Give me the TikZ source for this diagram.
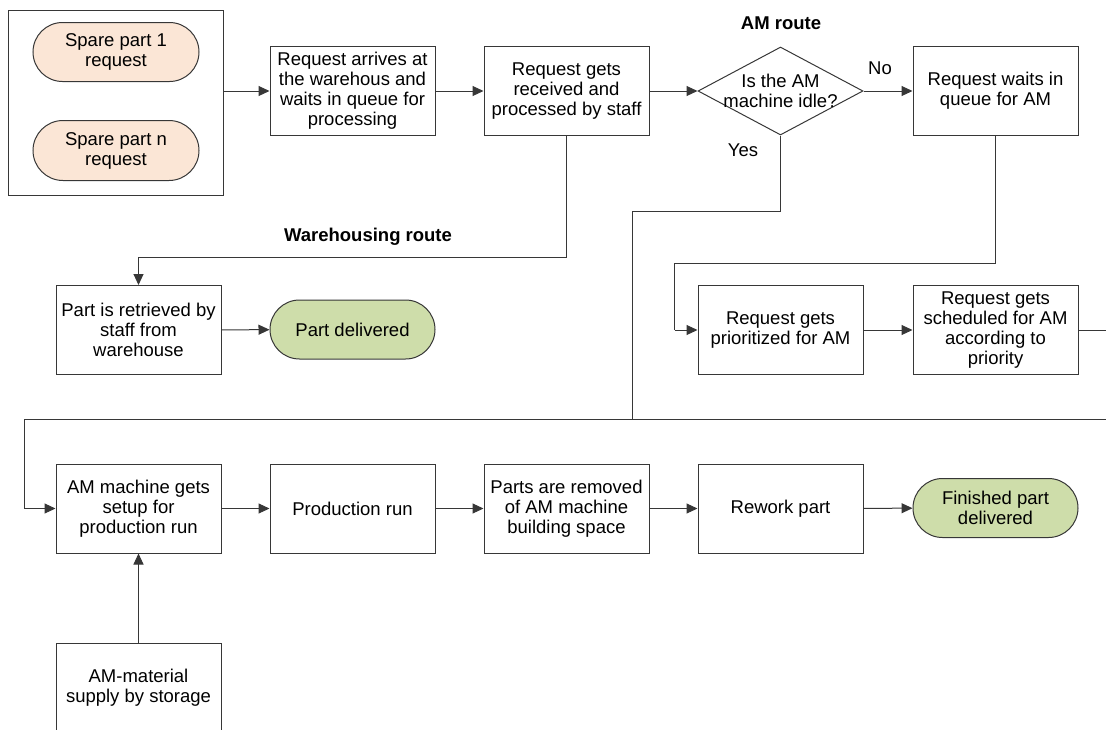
\documentclass[tikz,border=0pt]{standalone}
\usepackage{fontspec}
\setmainfont{Liberation Sans}
\usetikzlibrary{shapes.geometric,shapes.misc,arrows.meta}
\definecolor{linegrey}{RGB}{55,55,55}
\definecolor{peach}{RGB}{251,230,214}
\definecolor{sage}{RGB}{206,221,170}
\begin{document}
\begin{tikzpicture}[x=1pt,y=-1pt,
  every node/.style={font=\fontsize{18.5}{20}\selectfont, align=center, text=black},
  box/.style={draw=linegrey, line width=1pt, rectangle, minimum width=165pt, minimum height=89pt, inner sep=0pt},
  term/.style={draw=linegrey, line width=1pt, rounded rectangle, minimum width=165pt, minimum height=59pt, inner sep=0pt},
  decision/.style={draw=linegrey, line width=1pt, diamond, minimum width=165pt, minimum height=88pt, inner sep=0pt},
  link/.style={draw=linegrey, line width=1pt},
  arr/.style={link, -{Triangle[length=11pt,width=10pt]}},
  plain/.style={inner sep=0pt},
  heading/.style={plain, font=\fontsize{18.5}{20}\selectfont\bfseries}
]
\useasboundingbox (0,0) rectangle (1106,729);
\clip (0,0) rectangle (1106,729);

% request sources
\node[box, minimum width=215pt, minimum height=185pt] (outer) at (115.5,102.5) {};
\node[term, fill=peach, minimum width=166pt] (sp1) at (116,52) {Spare part 1\\request};
\node[term, fill=peach, minimum width=166pt, minimum height=60pt] (spn) at (116,150.5) {Spare part n\\request};

% top row
\node[box] (arrive) at (352.5,91) {Request arrives at\\the warehous and\\waits in queue for\\processing};
\node[box] (receive) at (566.5,91) {Request gets\\received and\\processed by staff};
\node[decision] (idle) at (780.5,91) {};
\node[plain] (idletext) at (idle.center) {Is the AM\\machine idle?};
\node[box] (waits) at (995.5,91) {Request waits in\\queue for AM};

% labels
\node[heading] (amroute) at (781,23) {AM route};
\node[plain] (no) at (880,68) {No};
\node[plain] (yes) at (743,150) {Yes};
\node[heading] (whroute) at (368,237) {Warehousing route};

% middle row
\node[box] (retrieve) at (138.5,330) {Part is retrieved by\\staff from\\warehouse};
\node[term, fill=sage] (pdel) at (352.5,329.5) {Part delivered};
\node[box] (prio) at (780.5,330) {Request gets\\prioritized for AM};
\node[box] (sched) at (995.5,330) {Request gets\\scheduled for AM\\according to\\priority};

% bottom row
\node[box] (setup) at (138.5,508.5) {AM machine gets\\setup for\\production run};
\node[box] (prod) at (352.5,508.5) {Production run};
\node[box] (remove) at (566.5,508.5) {Parts are removed\\of AM machine\\building space};
\node[box] (rework) at (780.5,508.5) {Rework part};
\node[term, fill=sage] (fdel) at (995.5,508) {Finished part\\delivered};
\node[box, minimum height=90pt] (supply) at (138.5,688) {AM-material\\supply by storage};

% routing points
\coordinate (edgeR1) at (1106,330);
\coordinate (edgeR2) at (1106,419.5);
\coordinate (loopL) at (24,419.5);
\coordinate (yesjoin) at (632.5,419.5);
\coordinate (prioin) at (674.5,330);

% connectors
\draw[arr] (outer.east |- arrive.west) -- (arrive.west);
\draw[arr] (arrive) -- (receive);
\draw[arr] (receive) -- (idle);
\draw[arr] (idle) -- (waits);
\draw[arr] (receive.south) -- ++(0,121) -| (retrieve.north);
\draw[arr] (retrieve) -- (pdel);
\draw[link] (waits.south) -- ++(0,127) -| (prioin);
\draw[arr] (prioin) -- (prio.west);
\draw[arr] (prio) -- (sched);
\draw[link] (sched.east) -- (edgeR1);
\draw[link] (idle.south) -- ++(0,76) -| (yesjoin);
\draw[arr] (edgeR2) -- (loopL) |- (setup.west);
\draw[arr] (setup) -- (prod);
\draw[arr] (prod) -- (remove);
\draw[arr] (remove) -- (rework);
\draw[arr] (rework) -- (fdel);
\draw[arr] (supply) -- (setup);
\end{tikzpicture}
\end{document}
